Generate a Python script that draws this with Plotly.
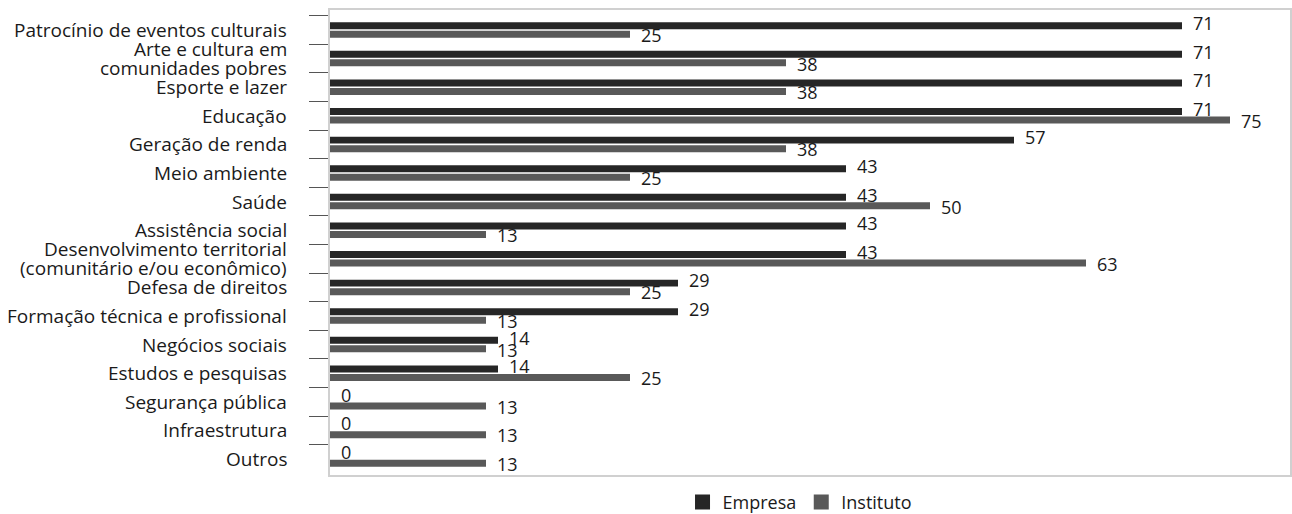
import plotly.graph_objects as go

categories = [
    "Patrocínio de eventos culturais",
    "Arte e cultura em<br>comunidades pobres",
    "Esporte e lazer",
    "Educação",
    "Geração de renda",
    "Meio ambiente",
    "Saúde",
    "Assistência social",
    "Desenvolvimento territorial<br>(comunitário e/ou econômico)",
    "Defesa de direitos",
    "Formação técnica e profissional",
    "Negócios sociais",
    "Estudos e pesquisas",
    "Segurança pública",
    "Infraestrutura",
    "Outros",
]
empresa = [71, 71, 71, 71, 57, 43, 43, 43, 43, 29, 29, 14, 14, 0, 0, 0]
instituto = [25, 38, 38, 75, 38, 25, 50, 13, 63, 25, 13, 13, 25, 13, 13, 13]

FONT = "Open Sans"
TEXT = "#1a1a1a"
LABEL_SIZE = 19
LINE_GAP = 19  # px between the lines of a wrapped category label

series = [
    # name, values, colour, vertical shift of the value labels (px, up is positive)
    ("Empresa", empresa, "#262626", 7),
    ("Instituto", instituto, "#595959", -5),
]

fig = go.Figure()
annotations = []
for name, vals, color, shift in series:
    fig.add_trace(go.Bar(
        name=name,
        y=categories,
        x=vals,
        orientation="h",
        marker=dict(color=color, line=dict(width=0)),
        showlegend=False,
        hoverinfo="x+y+name",
    ))
    # larger square swatches for the legend
    fig.add_trace(go.Scatter(
        name=name,
        x=[None],
        y=[None],
        mode="markers",
        marker=dict(symbol="square", size=15, color=color),
        showlegend=True,
    ))
    for cat, v in zip(categories, vals):
        annotations.append(dict(
            x=v,
            y=cat,
            xref="x",
            yref="y",
            text=str(v),
            showarrow=False,
            xanchor="left",
            yanchor="middle",
            xshift=9,
            yshift=shift,
            font=dict(family=FONT, size=18, color=TEXT),
        ))

# category labels, with tighter line spacing for the wrapped ones
for cat in categories:
    lines = cat.split("<br>")
    n = len(lines)
    for i, line in enumerate(lines):
        annotations.append(dict(
            x=0,
            y=cat,
            xref="paper",
            yref="y",
            text=line,
            showarrow=False,
            xanchor="right",
            yanchor="middle",
            xshift=-41,
            yshift=((n - 1) / 2 - i) * LINE_GAP,
            font=dict(family=FONT, size=LABEL_SIZE, color=TEXT),
        ))

fig.update_layout(
    width=1292,
    height=514,
    margin=dict(l=330, r=2, t=10, b=39, autoexpand=False),
    paper_bgcolor="white",
    plot_bgcolor="white",
    barmode="group",
    bargap=0.405,
    bargroupgap=0.18,
    font=dict(family=FONT, size=18, color=TEXT),
    showlegend=True,
    annotations=annotations,
    legend=dict(
        orientation="h",
        x=0.4896,
        xanchor="center",
        yref="container",
        y=0.023,
        yanchor="middle",
        font=dict(family=FONT, size=18, color=TEXT),
        itemwidth=30,
    ),
    xaxis=dict(
        range=[0, 80],
        showgrid=False,
        zeroline=False,
        showticklabels=False,
        ticks="",
        showline=True,
        mirror=True,
        linecolor="#d0d0d0",
        linewidth=1.5,
    ),
    yaxis=dict(
        type="category",
        range=[15.56, -0.699],
        showgrid=False,
        tickson="boundaries",
        ticks="outside",
        ticklen=19,
        tickwidth=1,
        tickcolor="#555555",
        showticklabels=False,
        showline=True,
        mirror=True,
        linecolor="#d0d0d0",
        linewidth=1.5,
    ),
)

fig.write_html("out.html")
